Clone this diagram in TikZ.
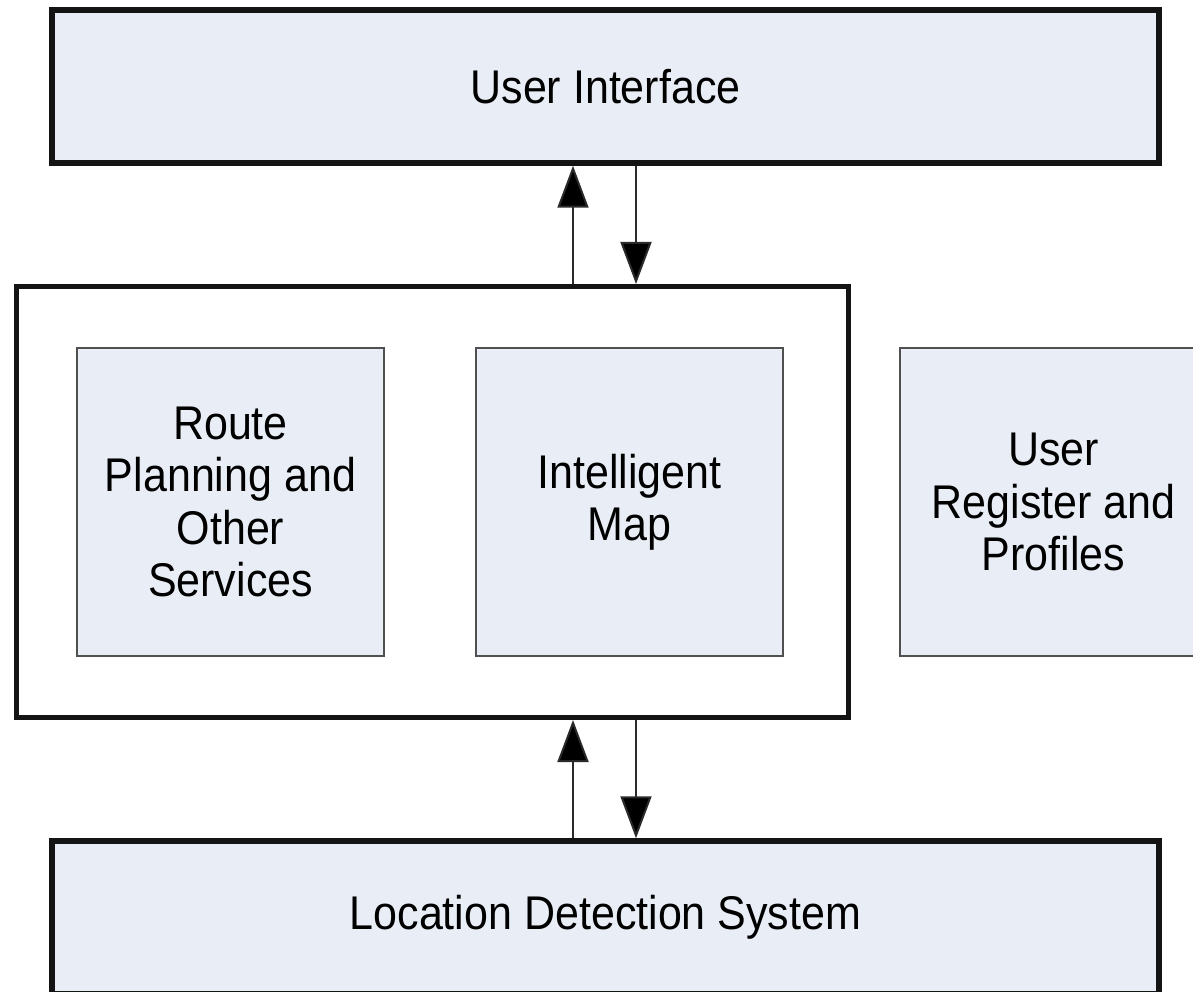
\documentclass[tikz,border=0pt]{standalone}
\usepackage{fontspec}
\usepackage{graphicx}
\setmainfont{Liberation Sans}
\usetikzlibrary{arrows.meta}
\definecolor{boxfill}{HTML}{E9EEF6}
\definecolor{thinline}{HTML}{505050}
\definecolor{shaft}{HTML}{2A2A2A}
\newcommand\tline[1]{\scalebox{1}[1.1]{#1}}
\begin{document}
\begin{tikzpicture}[x=1pt,y=-1pt,
  every node/.style={font=\fontsize{43}{52.3}\selectfont, align=center, inner sep=0pt},
  bigbox/.style={draw=black!92, line width=5.5pt, fill=boxfill, minimum width=1107pt, minimum height=153pt},
  midbox/.style={draw=black!92, line width=5pt, fill=white, minimum width=832pt, minimum height=431pt},
  smallbox/.style={draw=thinline, line width=2pt, fill=boxfill, minimum width=307pt, minimum height=308pt},
  arr/.style={draw=shaft, line width=2pt, -{Triangle[width=31pt,length=42pt,fill=black]}}
]
\useasboundingbox (0,0) rectangle (1193,992);
\node[bigbox] (ui) at (605.5,86.5) {\tline{User Interface}};
\node[midbox] (mid) at (432.5,502) {};
\node[smallbox] (route) at (230.5,502) {\tline{Route}\\\tline{Planning and}\\\tline{Other}\\\tline{Services}};
\node[smallbox] (map) at (629.5,502) {\tline{Intelligent}\\\tline{Map}};
\node[smallbox] (reg) at (1053.5,502) {\tline{User}\\\tline{Register and}\\\tline{Profiles}};
\node[bigbox] (lds) at (605.5,917.5) {\tline{Location Detection System}};
\coordinate (ax) at (573,0);
\coordinate (bx) at (636,0);
\draw[arr] (ax |- mid.north) -- (ax |- ui.south);
\draw[arr] (bx |- ui.south) -- (bx |- mid.north);
\draw[arr] (ax |- lds.north) -- (ax |- mid.south);
\draw[arr] (bx |- mid.south) -- (bx |- lds.north);
\end{tikzpicture}
\end{document}
